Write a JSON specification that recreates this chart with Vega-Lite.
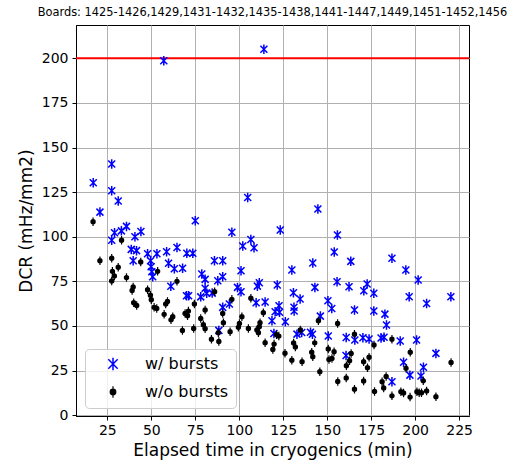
{
  "$schema": "https://vega.github.io/schema/vega-lite/v6.json",
  "width": 393,
  "height": 391,
  "autosize": "none",
  "padding": {"left": 76, "top": 25, "right": 50, "bottom": 55},
  "background": "white",
  "title": {"text": "Boards: 1425-1426,1429,1431-1432,1435-1438,1441-1447,1449,1451-1452,1456", "fontSize": 11.4, "fontWeight": "normal", "font": "DejaVu Sans", "anchor": "middle", "offset": 7, "color": "#000000"},
  "config": {
    "view": {"stroke": "#000000", "strokeWidth": 1},
    "font": "DejaVu Sans",
    "axis": {"domainColor": "#000000", "tickColor": "#000000", "tickSize": 4, "gridColor": "#b0b0b0", "gridWidth": 1, "labelColor": "#000000", "titleColor": "#000000", "labelFontSize": 14, "titleFontSize": 17, "titleFontWeight": "normal", "labelFont": "DejaVu Sans", "titleFont": "DejaVu Sans"}
  },
  "datasets": {
    "limit": [{"level": 200}],
    "points": [
      {"t": 57.1, "dcr": 198.7, "series": "w/ bursts"},
      {"t": 114.0, "dcr": 205.1, "series": "w/ bursts"},
      {"t": 17.0, "dcr": 130.3, "series": "w/ bursts"},
      {"t": 27.5, "dcr": 140.8, "series": "w/ bursts"},
      {"t": 27.5, "dcr": 125.8, "series": "w/ bursts"},
      {"t": 31.2, "dcr": 120.0, "series": "w/ bursts"},
      {"t": 20.8, "dcr": 113.8, "series": "w/ bursts"},
      {"t": 29.1, "dcr": 102.2, "series": "w/ bursts"},
      {"t": 27.5, "dcr": 98.0, "series": "w/ bursts"},
      {"t": 33.0, "dcr": 103.3, "series": "w/ bursts"},
      {"t": 35.9, "dcr": 105.8, "series": "w/ bursts"},
      {"t": 40.7, "dcr": 100.0, "series": "w/ bursts"},
      {"t": 44.1, "dcr": 102.9, "series": "w/ bursts"},
      {"t": 38.6, "dcr": 92.9, "series": "w/ bursts"},
      {"t": 41.6, "dcr": 92.2, "series": "w/ bursts"},
      {"t": 39.7, "dcr": 86.5, "series": "w/ bursts"},
      {"t": 47.9, "dcr": 90.5, "series": "w/ bursts"},
      {"t": 53.2, "dcr": 90.5, "series": "w/ bursts"},
      {"t": 58.7, "dcr": 91.6, "series": "w/ bursts"},
      {"t": 64.6, "dcr": 94.0, "series": "w/ bursts"},
      {"t": 49.6, "dcr": 86.5, "series": "w/ bursts"},
      {"t": 49.9, "dcr": 83.2, "series": "w/ bursts"},
      {"t": 50.3, "dcr": 80.4, "series": "w/ bursts"},
      {"t": 50.8, "dcr": 77.6, "series": "w/ bursts"},
      {"t": 59.8, "dcr": 85.1, "series": "w/ bursts"},
      {"t": 63.1, "dcr": 82.0, "series": "w/ bursts"},
      {"t": 61.1, "dcr": 72.2, "series": "w/ bursts"},
      {"t": 67.8, "dcr": 82.3, "series": "w/ bursts"},
      {"t": 70.2, "dcr": 90.7, "series": "w/ bursts"},
      {"t": 73.6, "dcr": 90.7, "series": "w/ bursts"},
      {"t": 75.0, "dcr": 109.0, "series": "w/ bursts"},
      {"t": 70.0, "dcr": 66.9, "series": "w/ bursts"},
      {"t": 71.2, "dcr": 66.9, "series": "w/ bursts"},
      {"t": 78.7, "dcr": 79.1, "series": "w/ bursts"},
      {"t": 80.6, "dcr": 76.1, "series": "w/ bursts"},
      {"t": 80.6, "dcr": 71.1, "series": "w/ bursts"},
      {"t": 78.1, "dcr": 66.3, "series": "w/ bursts"},
      {"t": 81.5, "dcr": 68.3, "series": "w/ bursts"},
      {"t": 85.9, "dcr": 86.5, "series": "w/ bursts"},
      {"t": 87.8, "dcr": 75.3, "series": "w/ bursts"},
      {"t": 84.6, "dcr": 68.4, "series": "w/ bursts"},
      {"t": 88.4, "dcr": 47.5, "series": "w/ bursts"},
      {"t": 90.6, "dcr": 77.6, "series": "w/ bursts"},
      {"t": 90.6, "dcr": 86.5, "series": "w/ bursts"},
      {"t": 95.8, "dcr": 102.5, "series": "w/ bursts"},
      {"t": 102.0, "dcr": 94.8, "series": "w/ bursts"},
      {"t": 106.6, "dcr": 98.5, "series": "w/ bursts"},
      {"t": 108.4, "dcr": 93.8, "series": "w/ bursts"},
      {"t": 104.8, "dcr": 122.0, "series": "w/ bursts"},
      {"t": 101.0, "dcr": 80.9, "series": "w/ bursts"},
      {"t": 99.0, "dcr": 71.6, "series": "w/ bursts"},
      {"t": 101.0, "dcr": 69.2, "series": "w/ bursts"},
      {"t": 111.4, "dcr": 74.2, "series": "w/ bursts"},
      {"t": 110.3, "dcr": 72.3, "series": "w/ bursts"},
      {"t": 90.6, "dcr": 60.4, "series": "w/ bursts"},
      {"t": 94.4, "dcr": 62.3, "series": "w/ bursts"},
      {"t": 109.6, "dcr": 63.0, "series": "w/ bursts"},
      {"t": 114.7, "dcr": 63.4, "series": "w/ bursts"},
      {"t": 118.6, "dcr": 52.9, "series": "w/ bursts"},
      {"t": 121.6, "dcr": 72.9, "series": "w/ bursts"},
      {"t": 122.6, "dcr": 61.3, "series": "w/ bursts"},
      {"t": 120.4, "dcr": 57.9, "series": "w/ bursts"},
      {"t": 122.9, "dcr": 57.7, "series": "w/ bursts"},
      {"t": 129.9, "dcr": 81.3, "series": "w/ bursts"},
      {"t": 130.8, "dcr": 68.6, "series": "w/ bursts"},
      {"t": 134.6, "dcr": 65.1, "series": "w/ bursts"},
      {"t": 143.0, "dcr": 71.6, "series": "w/ bursts"},
      {"t": 155.6, "dcr": 74.8, "series": "w/ bursts"},
      {"t": 162.4, "dcr": 72.0, "series": "w/ bursts"},
      {"t": 150.4, "dcr": 64.1, "series": "w/ bursts"},
      {"t": 152.6, "dcr": 59.8, "series": "w/ bursts"},
      {"t": 131.1, "dcr": 60.5, "series": "w/ bursts"},
      {"t": 131.2, "dcr": 58.4, "series": "w/ bursts"},
      {"t": 126.2, "dcr": 52.3, "series": "w/ bursts"},
      {"t": 146.1, "dcr": 55.5, "series": "w/ bursts"},
      {"t": 119.7, "dcr": 45.8, "series": "w/ bursts"},
      {"t": 132.8, "dcr": 45.4, "series": "w/ bursts"},
      {"t": 135.5, "dcr": 46.3, "series": "w/ bursts"},
      {"t": 140.5, "dcr": 46.4, "series": "w/ bursts"},
      {"t": 141.6, "dcr": 45.3, "series": "w/ bursts"},
      {"t": 150.6, "dcr": 44.3, "series": "w/ bursts"},
      {"t": 160.8, "dcr": 43.5, "series": "w/ bursts"},
      {"t": 160.7, "dcr": 33.4, "series": "w/ bursts"},
      {"t": 144.7, "dcr": 115.5, "series": "w/ bursts"},
      {"t": 123.3, "dcr": 103.8, "series": "w/ bursts"},
      {"t": 155.8, "dcr": 101.0, "series": "w/ bursts"},
      {"t": 154.0, "dcr": 91.4, "series": "w/ bursts"},
      {"t": 141.8, "dcr": 85.3, "series": "w/ bursts"},
      {"t": 163.4, "dcr": 86.2, "series": "w/ bursts"},
      {"t": 172.7, "dcr": 73.5, "series": "w/ bursts"},
      {"t": 170.8, "dcr": 69.7, "series": "w/ bursts"},
      {"t": 176.5, "dcr": 68.3, "series": "w/ bursts"},
      {"t": 165.5, "dcr": 58.9, "series": "w/ bursts"},
      {"t": 176.5, "dcr": 58.4, "series": "w/ bursts"},
      {"t": 165.7, "dcr": 42.1, "series": "w/ bursts"},
      {"t": 170.3, "dcr": 43.4, "series": "w/ bursts"},
      {"t": 173.8, "dcr": 42.7, "series": "w/ bursts"},
      {"t": 186.8, "dcr": 87.9, "series": "w/ bursts"},
      {"t": 194.7, "dcr": 81.3, "series": "w/ bursts"},
      {"t": 201.7, "dcr": 75.7, "series": "w/ bursts"},
      {"t": 196.6, "dcr": 66.4, "series": "w/ bursts"},
      {"t": 206.5, "dcr": 62.6, "series": "w/ bursts"},
      {"t": 220.3, "dcr": 66.4, "series": "w/ bursts"},
      {"t": 182.8, "dcr": 56.6, "series": "w/ bursts"},
      {"t": 183.7, "dcr": 50.5, "series": "w/ bursts"},
      {"t": 180.6, "dcr": 43.2, "series": "w/ bursts"},
      {"t": 182.3, "dcr": 43.6, "series": "w/ bursts"},
      {"t": 191.5, "dcr": 41.5, "series": "w/ bursts"},
      {"t": 200.8, "dcr": 42.1, "series": "w/ bursts"},
      {"t": 211.8, "dcr": 34.6, "series": "w/ bursts"},
      {"t": 193.4, "dcr": 29.6, "series": "w/ bursts"},
      {"t": 204.7, "dcr": 26.8, "series": "w/ bursts"},
      {"t": 197.0, "dcr": 22.4, "series": "w/ bursts"},
      {"t": 203.3, "dcr": 21.9, "series": "w/ bursts"},
      {"t": 186.8, "dcr": 18.7, "series": "w/ bursts"},
      {"t": 16.9, "dcr": 108.4, "series": "w/o bursts"},
      {"t": 20.8, "dcr": 86.5, "series": "w/o bursts"},
      {"t": 27.5, "dcr": 88.0, "series": "w/o bursts"},
      {"t": 31.2, "dcr": 82.9, "series": "w/o bursts"},
      {"t": 33.1, "dcr": 98.0, "series": "w/o bursts"},
      {"t": 44.0, "dcr": 85.9, "series": "w/o bursts"},
      {"t": 27.9, "dcr": 80.6, "series": "w/o bursts"},
      {"t": 29.0, "dcr": 78.0, "series": "w/o bursts"},
      {"t": 27.5, "dcr": 75.2, "series": "w/o bursts"},
      {"t": 35.9, "dcr": 77.1, "series": "w/o bursts"},
      {"t": 39.7, "dcr": 71.8, "series": "w/o bursts"},
      {"t": 39.1, "dcr": 69.9, "series": "w/o bursts"},
      {"t": 40.0, "dcr": 63.0, "series": "w/o bursts"},
      {"t": 41.7, "dcr": 61.5, "series": "w/o bursts"},
      {"t": 47.9, "dcr": 70.3, "series": "w/o bursts"},
      {"t": 49.5, "dcr": 67.2, "series": "w/o bursts"},
      {"t": 50.0, "dcr": 64.7, "series": "w/o bursts"},
      {"t": 51.6, "dcr": 60.4, "series": "w/o bursts"},
      {"t": 53.1, "dcr": 59.8, "series": "w/o bursts"},
      {"t": 53.6, "dcr": 80.6, "series": "w/o bursts"},
      {"t": 59.2, "dcr": 63.7, "series": "w/o bursts"},
      {"t": 58.2, "dcr": 62.3, "series": "w/o bursts"},
      {"t": 57.3, "dcr": 56.5, "series": "w/o bursts"},
      {"t": 62.2, "dcr": 55.2, "series": "w/o bursts"},
      {"t": 61.2, "dcr": 53.4, "series": "w/o bursts"},
      {"t": 64.6, "dcr": 75.0, "series": "w/o bursts"},
      {"t": 67.7, "dcr": 47.4, "series": "w/o bursts"},
      {"t": 69.2, "dcr": 57.0, "series": "w/o bursts"},
      {"t": 71.1, "dcr": 58.3, "series": "w/o bursts"},
      {"t": 70.6, "dcr": 55.7, "series": "w/o bursts"},
      {"t": 74.5, "dcr": 62.3, "series": "w/o bursts"},
      {"t": 74.1, "dcr": 48.6, "series": "w/o bursts"},
      {"t": 78.1, "dcr": 54.2, "series": "w/o bursts"},
      {"t": 79.6, "dcr": 50.7, "series": "w/o bursts"},
      {"t": 80.6, "dcr": 58.9, "series": "w/o bursts"},
      {"t": 80.6, "dcr": 48.4, "series": "w/o bursts"},
      {"t": 86.0, "dcr": 69.2, "series": "w/o bursts"},
      {"t": 84.2, "dcr": 42.5, "series": "w/o bursts"},
      {"t": 88.4, "dcr": 41.3, "series": "w/o bursts"},
      {"t": 88.1, "dcr": 46.2, "series": "w/o bursts"},
      {"t": 90.6, "dcr": 57.0, "series": "w/o bursts"},
      {"t": 91.0, "dcr": 51.8, "series": "w/o bursts"},
      {"t": 94.8, "dcr": 46.7, "series": "w/o bursts"},
      {"t": 95.8, "dcr": 64.9, "series": "w/o bursts"},
      {"t": 99.5, "dcr": 49.2, "series": "w/o bursts"},
      {"t": 101.5, "dcr": 55.1, "series": "w/o bursts"},
      {"t": 100.1, "dcr": 51.4, "series": "w/o bursts"},
      {"t": 105.2, "dcr": 48.6, "series": "w/o bursts"},
      {"t": 106.6, "dcr": 65.5, "series": "w/o bursts"},
      {"t": 113.7, "dcr": 57.4, "series": "w/o bursts"},
      {"t": 110.0, "dcr": 47.7, "series": "w/o bursts"},
      {"t": 111.4, "dcr": 49.5, "series": "w/o bursts"},
      {"t": 111.8, "dcr": 51.8, "series": "w/o bursts"},
      {"t": 110.9, "dcr": 46.2, "series": "w/o bursts"},
      {"t": 114.7, "dcr": 40.6, "series": "w/o bursts"},
      {"t": 119.1, "dcr": 36.8, "series": "w/o bursts"},
      {"t": 119.8, "dcr": 39.8, "series": "w/o bursts"},
      {"t": 121.2, "dcr": 45.1, "series": "w/o bursts"},
      {"t": 122.5, "dcr": 44.3, "series": "w/o bursts"},
      {"t": 126.0, "dcr": 34.7, "series": "w/o bursts"},
      {"t": 129.9, "dcr": 30.8, "series": "w/o bursts"},
      {"t": 130.9, "dcr": 40.4, "series": "w/o bursts"},
      {"t": 131.9, "dcr": 38.2, "series": "w/o bursts"},
      {"t": 134.7, "dcr": 47.7, "series": "w/o bursts"},
      {"t": 135.7, "dcr": 29.9, "series": "w/o bursts"},
      {"t": 141.2, "dcr": 35.2, "series": "w/o bursts"},
      {"t": 141.8, "dcr": 32.7, "series": "w/o bursts"},
      {"t": 142.9, "dcr": 40.5, "series": "w/o bursts"},
      {"t": 145.0, "dcr": 52.9, "series": "w/o bursts"},
      {"t": 145.8, "dcr": 24.3, "series": "w/o bursts"},
      {"t": 150.6, "dcr": 37.1, "series": "w/o bursts"},
      {"t": 151.0, "dcr": 31.2, "series": "w/o bursts"},
      {"t": 152.7, "dcr": 31.8, "series": "w/o bursts"},
      {"t": 153.9, "dcr": 35.5, "series": "w/o bursts"},
      {"t": 155.9, "dcr": 51.4, "series": "w/o bursts"},
      {"t": 156.0, "dcr": 18.9, "series": "w/o bursts"},
      {"t": 160.8, "dcr": 20.8, "series": "w/o bursts"},
      {"t": 160.9, "dcr": 27.7, "series": "w/o bursts"},
      {"t": 162.7, "dcr": 30.5, "series": "w/o bursts"},
      {"t": 163.6, "dcr": 34.6, "series": "w/o bursts"},
      {"t": 165.5, "dcr": 45.3, "series": "w/o bursts"},
      {"t": 165.5, "dcr": 14.5, "series": "w/o bursts"},
      {"t": 170.7, "dcr": 29.9, "series": "w/o bursts"},
      {"t": 170.7, "dcr": 19.1, "series": "w/o bursts"},
      {"t": 172.9, "dcr": 26.6, "series": "w/o bursts"},
      {"t": 173.8, "dcr": 32.5, "series": "w/o bursts"},
      {"t": 176.6, "dcr": 39.3, "series": "w/o bursts"},
      {"t": 176.9, "dcr": 13.3, "series": "w/o bursts"},
      {"t": 186.8, "dcr": 42.5, "series": "w/o bursts"},
      {"t": 197.2, "dcr": 35.2, "series": "w/o bursts"},
      {"t": 194.8, "dcr": 26.2, "series": "w/o bursts"},
      {"t": 204.6, "dcr": 19.2, "series": "w/o bursts"},
      {"t": 220.4, "dcr": 29.5, "series": "w/o bursts"},
      {"t": 183.5, "dcr": 21.7, "series": "w/o bursts"},
      {"t": 181.2, "dcr": 18.7, "series": "w/o bursts"},
      {"t": 182.1, "dcr": 15.2, "series": "w/o bursts"},
      {"t": 186.8, "dcr": 10.8, "series": "w/o bursts"},
      {"t": 191.9, "dcr": 13.1, "series": "w/o bursts"},
      {"t": 193.4, "dcr": 12.4, "series": "w/o bursts"},
      {"t": 197.1, "dcr": 10.1, "series": "w/o bursts"},
      {"t": 201.0, "dcr": 13.1, "series": "w/o bursts"},
      {"t": 202.3, "dcr": 12.5, "series": "w/o bursts"},
      {"t": 203.6, "dcr": 12.5, "series": "w/o bursts"},
      {"t": 206.5, "dcr": 13.5, "series": "w/o bursts"},
      {"t": 211.8, "dcr": 10.3, "series": "w/o bursts"}
    ]
  },
  "layer": [
    {
      "data": {"name": "limit"},
      "mark": {"type": "rule", "color": "#ff0000", "strokeWidth": 2},
      "encoding": {
        "y": {"field": "level", "type": "quantitative", "scale": {"domain": [-0.5, 218.7], "nice": false, "zero": false}}
      }
    },
    {
      "data": {"name": "points"},
      "mark": {"type": "point", "opacity": 1, "size": 100},
      "encoding": {
        "x": {"field": "t", "type": "quantitative", "scale": {"domain": [7.2, 230.6], "nice": false, "zero": false},
          "axis": {"title": "Elapsed time in cryogenics (min)", "values": [25, 50, 75, 100, 125, 150, 175, 200, 225], "labelPadding": 3, "titlePadding": 5, "grid": true}},
        "y": {"field": "dcr", "type": "quantitative", "scale": {"domain": [-0.5, 218.7], "nice": false, "zero": false},
          "axis": {"title": "DCR (mHz/mm2)", "values": [0, 25, 50, 75, 100, 125, 150, 175, 200], "labelPadding": 4, "titlePadding": 6, "grid": true}},
        "shape": {"field": "series", "type": "nominal",
          "scale": {"domain": ["w/ bursts", "w/o bursts"], "range": ["M-0.7,-0.7L0.7,0.7M-0.7,0.7L0.7,-0.7M0,-0.95L0,0.95", "M-0.42,0A0.42,0.42,0,1,1,0.42,0A0.42,0.42,0,1,1,-0.42,0ZM0,-0.85L0,0.85"]},
          "legend": {"title": null, "orient": "none", "legendX": 9, "legendY": 324, "labelFontSize": 16, "labelFont": "DejaVu Sans", "labelColor": "#000000", "symbolSize": 180, "symbolStrokeWidth": 1.5, "rowPadding": 9, "padding": 7, "fillColor": "rgba(255,255,255,0.8)", "strokeColor": "#cccccc", "cornerRadius": 4, "labelOffset": 24, "symbolOffset": 13}},
        "stroke": {"field": "series", "type": "nominal", "scale": {"domain": ["w/ bursts", "w/o bursts"], "range": ["#0000ff", "#000000"]}},
        "fill": {"field": "series", "type": "nominal", "scale": {"domain": ["w/ bursts", "w/o bursts"], "range": ["transparent", "#000000"]}},
        "strokeWidth": {"field": "series", "type": "nominal", "scale": {"domain": ["w/ bursts", "w/o bursts"], "range": [1.5, 1.2]}, "legend": null}
      }
    }
  ]
}
